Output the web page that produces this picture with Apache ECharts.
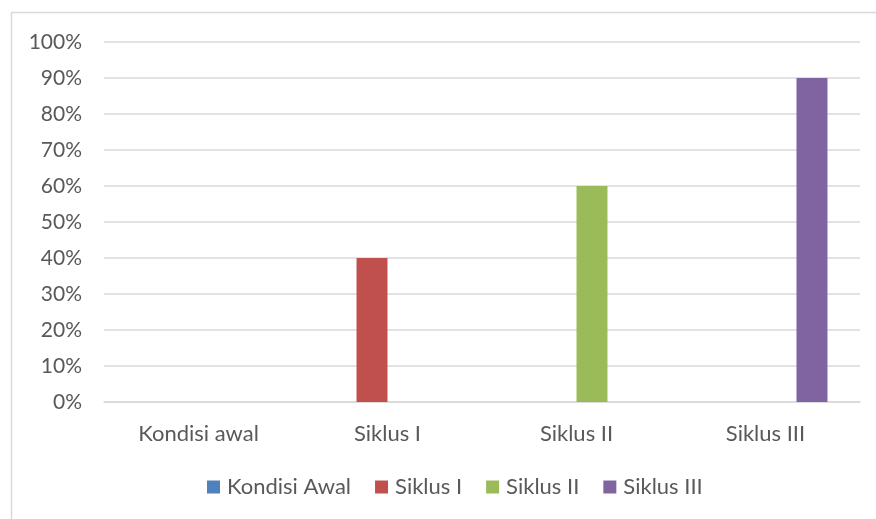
<!DOCTYPE html>
<html lang="en">
<head>
    <meta charset="UTF-8">
    <script src="https://cdn.jsdelivr.net/npm/echarts@6/dist/echarts.min.js"></script>
    <title>Chart</title>
    <style>
        body { margin: 0; background: #fff; }
    </style>
</head>
<body>
    <div id="main" style="width: 876px; height: 519px;"></div>
    <script>
        // data
        var categories = ['Kondisi awal', 'Siklus I', 'Siklus II', 'Siklus III'];
        var kondisiAwal = [0, '-', '-', '-'];
        var siklus1 = ['-', 40, '-', '-'];
        var siklus2 = ['-', '-', 60, '-'];
        var siklus3 = ['-', '-', '-', 90];

        var txt = '#595959';
        var font = 'Lato, "Liberation Sans", sans-serif';

        var myChart = echarts.init(document.getElementById('main'));

        function bar(name, data, color) {
            return {
                name: name,
                type: 'bar',
                data: data,
                barGap: '0%',
                barCategoryGap: '34.4%',
                itemStyle: { color: color }
            };
        }

        var option = {
            animation: false,
            textStyle: { fontFamily: font },
            graphic: [{
                type: 'rect',
                shape: { x: 11.5, y: 12.5, width: 900, height: 540 },
                style: { fill: 'none', stroke: '#d9d9d9', lineWidth: 1.5 },
                silent: true
            }],
            grid: { left: 104, right: 16, top: 42, bottom: 117 },
            legend: {
                bottom: 16,
                left: 202,
                itemWidth: 13,
                itemHeight: 13,
                itemGap: 24,
                icon: 'rect',
                textStyle: { color: txt, fontSize: 22, fontFamily: font, padding: [0, 0, 0, 2] },
                data: ['Kondisi Awal', 'Siklus I', 'Siklus II', 'Siklus III']
            },
            xAxis: {
                type: 'category',
                data: categories,
                axisLine: { show: true, lineStyle: { color: '#d9d9d9', width: 1.5 } },
                axisTick: { show: false },
                axisLabel: { color: txt, fontSize: 22, margin: 21, fontFamily: font }
            },
            yAxis: {
                type: 'value',
                min: 0,
                max: 100,
                interval: 10,
                axisLine: { show: false },
                axisTick: { show: false },
                axisLabel: { color: txt, fontSize: 21, margin: 22, formatter: '{value}%', fontFamily: font },
                splitLine: { lineStyle: { color: '#d9d9d9', width: 1.5 } }
            },
            series: [
                bar('Kondisi Awal', kondisiAwal, '#4F81BD'),
                bar('Siklus I', siklus1, '#C0504D'),
                bar('Siklus II', siklus2, '#9BBB59'),
                bar('Siklus III', siklus3, '#8064A2')
            ]
        };
        myChart.setOption(option);
    </script>
</body>
</html>
